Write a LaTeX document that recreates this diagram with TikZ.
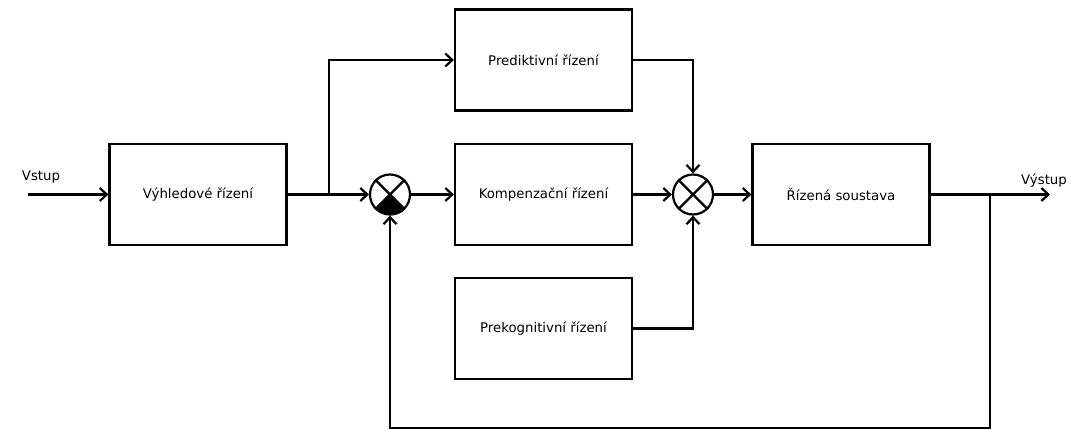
\documentclass[tikz,border=0pt]{standalone}
\usepackage{fontspec}
\setmainfont{DejaVu Sans}
\usetikzlibrary{arrows.meta}
\begin{document}
\begin{tikzpicture}[x=1pt,y=-1pt,
  blk/.style={draw,line width=2.2pt,minimum width=177pt,minimum height=101pt,inner sep=0pt,font=\fontsize{13.3}{15}\selectfont},
  sumnode/.style={draw,circle,line width=2.2pt,minimum size=40pt,inner sep=0pt},
  conn/.style={line width=2.2pt},
  arr/.style={conn,-{Straight Barb[length=7pt,width=13pt,line width=2.2pt]}},
  lbl/.style={font=\fontsize{13.3}{15}\selectfont,inner sep=0pt}]
\useasboundingbox (0,0) rectangle (1071,430);
\node[blk] (vyh) at (198,194.5) {Výhledové řízení};
\node[blk] (pred) at (543.5,60) {Prediktivní řízení};
\node[blk] (komp) at (543.5,194.5) {Kompenzační řízení};
\node[blk] (prek) at (543.5,328.5) {Prekognitivní řízení};
\node[blk] (sous) at (841,194.5) {Řízená soustava};
\node[sumnode] (s1) at (390,194.5) {};
\node[sumnode] (s2) at (693,194.5) {};
% crosses
\fill (s1.center) -- (s1.-45) arc[start angle=-45,end angle=-135,radius=20pt] -- cycle;
\draw[conn] (s1.45) -- (s1.-135) (s1.135) -- (s1.-45);
\draw[conn] (s2.45) -- (s2.-135) (s2.135) -- (s2.-45);
% input
\coordinate (in) at (28,194.5);
\node[lbl] (vstup) at (41,177) {Vstup};
\draw[arr] (in) -- (vyh.west);
% branch
\coordinate (br) at (329,194.5);
\draw[conn] (vyh.east) -- (br);
\draw[arr] (br) -- (s1.west);
\draw[arr] (br) |- (pred.west);
\draw[arr] (s1.east) -- (komp.west);
\draw[arr] (komp.east) -- (s2.west);
\draw[arr] (pred.east) -| (s2.north);
\draw[arr] (prek.east) -| (s2.south);
\draw[arr] (s2.east) -- (sous.west);
% output
\coordinate (out) at (1050,194.5);
\node[lbl] (vystup) at (1044,181) {Výstup};
\draw[arr] (sous.east) -- (out);
% feedback
\coordinate (fb) at (990,194.5);
\coordinate (fbb) at (990,428);
\draw[arr] (fb) -- (fbb) -| (s1.south);
\end{tikzpicture}
\end{document}
